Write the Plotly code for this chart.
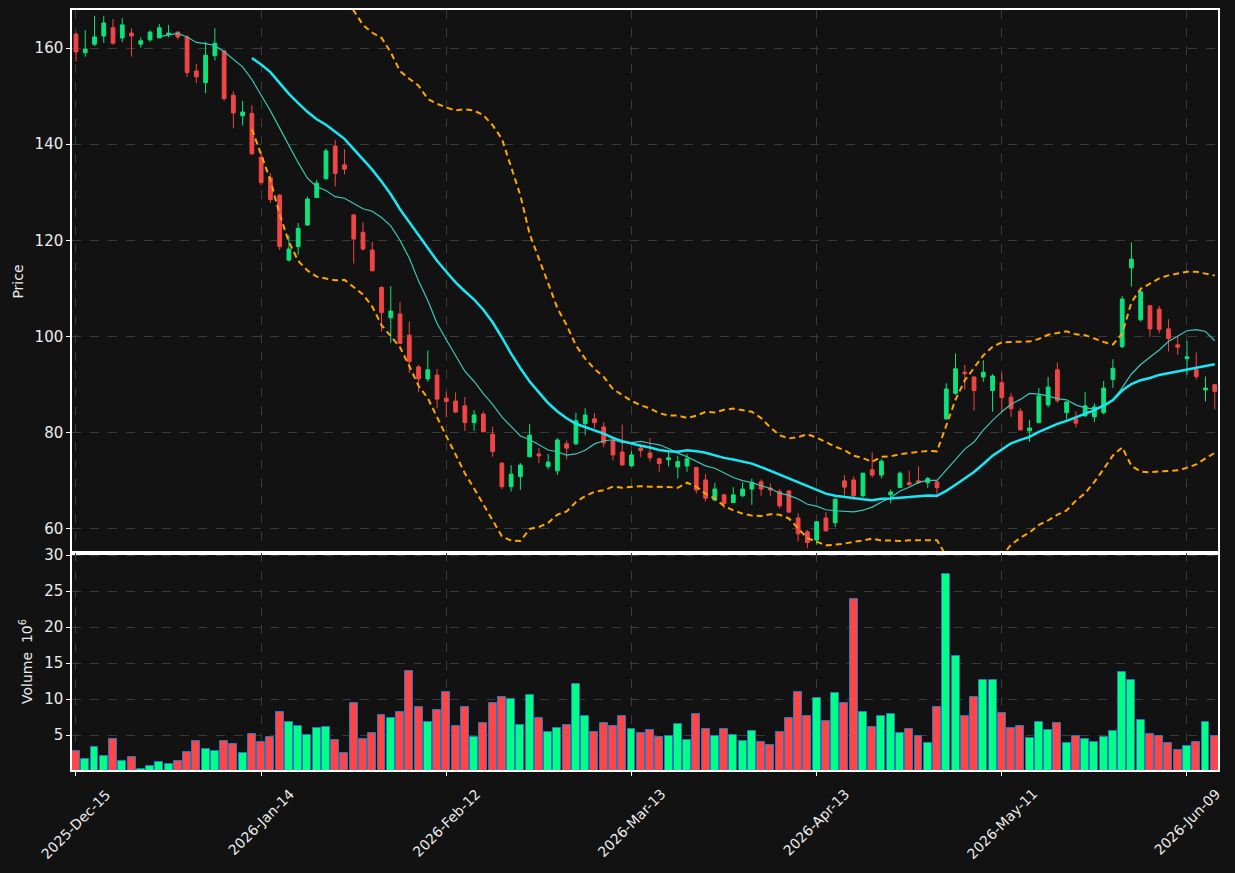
import numpy as np
import pandas as pd
import plotly.graph_objects as go

# ---------------- data ----------------
holidays = ['2025-12-25', '2026-01-01', '2026-01-19', '2026-02-16', '2026-04-03', '2026-05-25']
dates = [d for d in pd.bdate_range('2025-12-15', '2026-06-12') if d.strftime('%Y-%m-%d') not in holidays]

opens = [162.9, 159.0, 160.8, 162.5, 164.2, 162.1, 163.1, 160.8, 161.7, 162.1,
         162.8, 163.3, 162.3, 155.2, 152.8, 158.4, 159.4, 150.2, 145.9, 146.4,
         137.3, 133.0, 129.4, 115.9, 118.7, 123.2, 128.9, 132.8, 139.6, 135.7,
         125.3, 121.7, 118.0, 110.2, 103.9, 104.7, 100.3, 93.7, 91.2, 92.0,
         87.2, 86.6, 85.6, 82.1, 83.9, 79.7, 73.7, 68.8, 70.9, 75.0,
         75.6, 73.0, 72.1, 77.7, 77.7, 81.9, 82.9, 81.2, 78.4, 76.0,
         73.1, 76.8, 75.8, 74.6, 74.4, 72.9, 73.1, 72.8, 70.2, 66.0,
         67.1, 65.5, 66.9, 68.3, 69.8, 68.5, 67.8, 67.9, 62.3, 59.4,
         57.7, 62.3, 61.3, 70.0, 70.2, 66.9, 72.3, 71.2, 67.1, 68.6,
         69.6, 70.0, 69.6, 69.8, 82.9, 88.2, 92.6, 91.6, 91.6, 88.8,
         90.4, 87.4, 84.5, 80.4, 82.1, 85.8, 93.1, 84.2, 82.9, 83.5,
         83.3, 84.2, 91.1, 97.9, 114.3, 103.5, 106.4, 105.7, 101.6, 98.3,
         95.4, 93.1, 88.9, 90.0]
highs = [163.2, 163.7, 166.7, 166.7, 166.0, 166.2, 164.1, 162.2, 163.7, 165.0,
         164.8, 163.5, 162.7, 156.7, 161.3, 164.1, 159.5, 151.0, 149.0, 148.1,
         138.5, 134.0, 129.6, 121.1, 123.6, 129.1, 132.6, 139.1, 140.9, 138.9,
         125.5, 123.8, 119.7, 110.5, 110.5, 107.2, 103.1, 94.1, 97.1, 93.2,
         88.5, 88.4, 87.4, 84.7, 84.4, 81.3, 73.8, 73.3, 73.7, 81.8,
         76.8, 75.6, 78.9, 78.4, 84.2, 85.1, 84.1, 82.2, 79.2, 81.7,
         76.2, 77.7, 78.9, 74.7, 76.4, 75.2, 75.6, 72.9, 71.4, 69.6,
         67.3, 68.7, 69.7, 70.5, 70.3, 69.5, 68.3, 68.1, 63.3, 59.8,
         61.6, 63.5, 66.3, 71.2, 70.9, 71.7, 75.9, 74.5, 68.2, 71.9,
         72.1, 73.0, 70.8, 69.9, 90.3, 96.5, 94.1, 91.7, 95.1, 92.2,
         92.5, 88.2, 85.1, 82.7, 89.3, 91.6, 94.6, 86.5, 84.4, 88.5,
         86.1, 90.8, 95.3, 108.4, 119.6, 109.8, 106.5, 106.4, 103.6, 100.0,
         99.1, 96.7, 91.7, 90.1]
lows = [157.2, 158.2, 160.4, 161.1, 160.7, 161.2, 158.2, 160.1, 161.3, 162.1,
        162.2, 161.8, 154.0, 152.7, 150.6, 157.4, 149.0, 143.3, 143.9, 137.8,
        131.5, 127.8, 118.0, 115.6, 117.0, 123.1, 128.8, 132.7, 131.2, 133.7,
        115.2, 117.9, 113.5, 101.0, 98.7, 98.5, 92.4, 88.5, 90.6, 85.1,
        83.2, 84.1, 80.4, 80.4, 80.1, 75.0, 68.3, 67.8, 68.1, 75.0,
        73.7, 72.4, 71.2, 74.5, 77.5, 79.5, 80.9, 77.0, 74.3, 73.2,
        73.0, 74.9, 74.0, 71.9, 73.0, 70.5, 71.9, 67.4, 65.7, 65.9,
        64.3, 65.4, 66.6, 65.0, 66.9, 66.9, 64.3, 63.4, 57.4, 56.0,
        56.7, 59.5, 60.4, 67.0, 66.0, 66.5, 70.7, 70.5, 65.3, 68.5,
        69.0, 69.4, 68.5, 66.5, 82.7, 87.9, 89.0, 84.6, 90.6, 84.4,
        84.4, 83.3, 80.5, 78.1, 82.0, 85.3, 86.2, 82.7, 81.1, 83.4,
        82.2, 83.8, 89.3, 97.6, 110.4, 103.1, 99.9, 100.7, 96.9, 96.2,
        92.0, 91.1, 86.5, 84.9]
closes = [159.2, 159.8, 162.3, 165.2, 161.0, 164.8, 162.5, 161.5, 163.3, 164.2,
          163.1, 162.3, 154.9, 154.0, 158.5, 161.0, 149.5, 146.5, 146.7, 138.0,
          132.0, 128.5, 118.7, 118.2, 122.5, 128.6, 131.9, 138.6, 133.9, 134.8,
          120.3, 118.2, 113.7, 105.0, 105.3, 98.6, 94.8, 91.2, 93.1, 87.0,
          86.5, 84.3, 82.1, 83.7, 80.2, 76.1, 68.8, 71.4, 73.3, 79.5,
          75.2, 73.9, 78.5, 76.8, 82.5, 83.7, 82.1, 77.9, 75.4, 73.3,
          75.4, 76.3, 74.8, 73.6, 74.8, 74.0, 74.6, 68.1, 66.4, 68.3,
          65.3, 67.1, 68.3, 69.7, 68.3, 68.1, 64.8, 63.5, 59.0, 57.2,
          61.5, 59.6, 66.2, 68.7, 66.9, 71.6, 71.2, 74.1, 67.7, 71.6,
          69.2, 69.6, 70.5, 68.6, 89.1, 93.3, 92.3, 88.8, 92.6, 91.8,
          87.3, 85.0, 80.6, 81.0, 87.7, 89.5, 86.7, 86.4, 82.0, 85.6,
          85.4, 89.3, 93.4, 107.8, 116.1, 109.3, 101.6, 101.5, 99.6, 97.8,
          95.8, 91.7, 89.3, 88.6]
volumes_m = [2.72, 1.62, 3.37, 2.12, 4.39, 1.34, 1.89, 0.32, 0.74, 1.20,
             1.02, 1.34, 2.59, 4.11, 3.00, 2.72, 4.11, 3.69, 2.45, 5.08,
             3.97, 4.66, 8.26, 6.74, 6.19, 4.94, 5.91, 6.05, 4.25, 2.45,
             9.51, 4.39, 5.22, 7.71, 7.43, 8.26, 13.94, 8.82, 6.74, 8.54,
             11.03, 6.19, 8.82, 4.66, 6.60, 9.51, 10.34, 10.06, 6.32, 10.62,
             7.43, 5.36, 5.91, 6.32, 12.14, 7.57, 5.36, 6.60, 6.19, 7.57,
             5.77, 5.22, 5.63, 4.66, 4.80, 6.46, 4.25, 7.85, 5.77, 4.80,
             5.77, 4.94, 4.11, 5.49, 3.97, 3.55, 5.36, 7.43, 11.03, 7.57,
             10.20, 6.88, 10.90, 9.51, 23.90, 8.26, 6.05, 7.57, 7.85, 5.22,
             5.77, 4.80, 3.83, 8.82, 27.38, 16.02, 7.57, 10.34, 12.70, 12.70,
             7.99, 5.91, 6.19, 4.52, 6.74, 5.63, 6.60, 3.83, 4.80, 4.39,
             3.97, 4.66, 5.49, 13.80, 12.70, 7.02, 5.08, 4.80, 3.83, 2.86,
             3.42, 3.97, 6.74, 4.80]

mav_short, mav_long, band_window, band_k = 10, 20, 20, 2
tick_step = 20

# ---------------- derived ----------------
n = len(closes)
xi = list(range(n))
close_s = pd.Series(closes)
ma_s = close_s.rolling(mav_short).mean()
ma_l = close_s.rolling(mav_long).mean()
sd = close_s.rolling(band_window).std()
upper = close_s.rolling(band_window).mean() + band_k * sd
lower = close_s.rolling(band_window).mean() - band_k * sd

tick_pos = list(range(0, n, tick_step))
tick_txt = [dates[i].strftime('%Y-%b-%d') for i in tick_pos]

UP_C, DN_C = '#0ee27c', '#f04646'
VUP_C, VDN_C = '#00ff84', '#ff4545'
vol_colors = [VUP_C if c >= o else VDN_C for o, c in zip(opens, closes)]

BG = '#121212'
GRID = '#3a3a3a'
TXT = '#ececec'
FONT = 'DejaVu Sans'
TICKFONT = dict(family=FONT, size=15, color=TXT)

fig = go.Figure()
fig.add_trace(go.Candlestick(
    x=xi, open=opens, high=highs, low=lows, close=closes,
    increasing=dict(line=dict(color=UP_C, width=1), fillcolor=UP_C),
    decreasing=dict(line=dict(color=DN_C, width=1), fillcolor=DN_C),
    whiskerwidth=0, xaxis='x', yaxis='y', showlegend=False))
fig.add_trace(go.Scatter(x=xi, y=ma_s, mode='lines', line=dict(color='#3cc7b6', width=1.2),
                         xaxis='x', yaxis='y', showlegend=False))
fig.add_trace(go.Scatter(x=xi, y=ma_l, mode='lines', line=dict(color='#18e8f5', width=2.5),
                         xaxis='x', yaxis='y', showlegend=False))
fig.add_trace(go.Scatter(x=xi, y=upper, mode='lines', line=dict(color='#ffa500', width=2, dash='6px,4px'),
                         xaxis='x', yaxis='y', showlegend=False))
fig.add_trace(go.Scatter(x=xi, y=lower, mode='lines', line=dict(color='#ffa500', width=2, dash='6px,4px'),
                         xaxis='x', yaxis='y', showlegend=False))
fig.add_trace(go.Bar(x=xi, y=volumes_m, width=0.86,
                     marker=dict(color=vol_colors, line=dict(color='#2a78c0', width=1)),
                     xaxis='x2', yaxis='y2', showlegend=False))

xr = [-0.43, 123.35]
vol_dom = 0.2855
axis_common = dict(showline=True, linecolor='white', linewidth=1.5, mirror=True,
                   gridcolor=GRID, griddash='dash', gridwidth=1, zeroline=False,
                   automargin=False)

for i, t in zip(tick_pos, tick_txt):
    fig.add_annotation(x=i, y=-0.017, xref='x2', yref='paper', text=t, textangle=-45,
                       showarrow=False, xanchor='center', yanchor='top',
                       font=dict(family=FONT, size=14, color=TXT))

fig.update_layout(
    width=1235, height=873,
    paper_bgcolor=BG, plot_bgcolor=BG,
    margin=dict(l=72, r=17, t=10, b=103, autoexpand=False),
    boxgap=0.42,
    bargap=0,
    font=dict(family=FONT, size=14, color=TXT),
    xaxis=dict(domain=[0, 1], anchor='y', range=xr, tickvals=tick_pos, showticklabels=False,
               rangeslider=dict(visible=False), ticks='', **axis_common),
    yaxis=dict(domain=[vol_dom, 1], anchor='x', range=[55.0, 167.9], tickvals=[60, 80, 100, 120, 140, 160],
               ticks='outside', ticklen=4, tickcolor='white', tickfont=TICKFONT,
               title=dict(text='Price', standoff=8, font=dict(family=FONT, size=14, color=TXT)),
               **axis_common),
    xaxis2=dict(domain=[0, 1], anchor='y2', range=xr, tickvals=tick_pos, showticklabels=False,
                ticks='outside', ticklen=4, tickcolor='white', matches='x', **axis_common),
    yaxis2=dict(domain=[0, vol_dom], anchor='x2', range=[0.14, 30.28], tickvals=[5, 10, 15, 20, 25, 30],
                ticks='outside', ticklen=4, tickcolor='white', tickfont=TICKFONT,
                title=dict(text='Volume  10<sup>6</sup>', standoff=8, font=dict(family=FONT, size=14, color=TXT)),
                **axis_common),
)

fig.write_html('out.html')
